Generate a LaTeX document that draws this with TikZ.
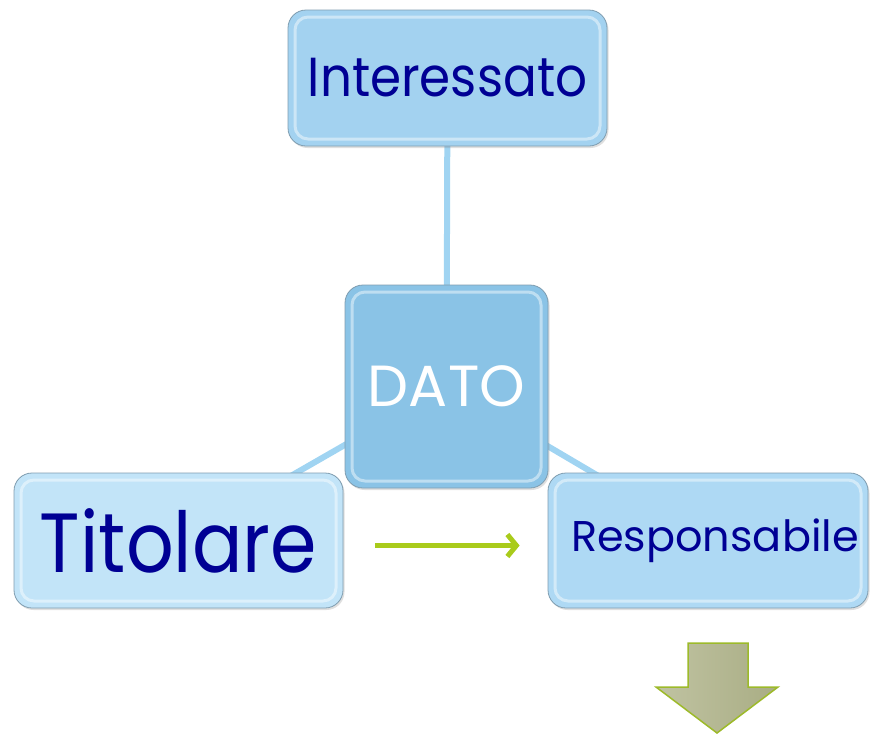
\documentclass[tikz,border=0pt]{standalone}
\usepackage{fontspec}
\setmainfont{Poppins}
\usetikzlibrary{arrows.meta,backgrounds,shadows}
\definecolor{intfill}{HTML}{A3D2F0}
\definecolor{datofill}{HTML}{8AC3E6}
\definecolor{titfill}{HTML}{C2E4F8}
\definecolor{respfill}{HTML}{AED9F4}
\definecolor{linkblue}{HTML}{A0D4F2}
\definecolor{navytext}{HTML}{000094}
\definecolor{arrgreen}{HTML}{A9CB1B}
\definecolor{olivetop}{HTML}{C0C3A2}
\definecolor{olivebot}{HTML}{A9AD84}
\definecolor{oliveedge}{HTML}{9DBA2A}
\definecolor{boxedge}{HTML}{7F9DB0}
\tikzset{
  box/.style={rectangle, rounded corners=18pt, draw=boxedge, line width=0.8pt,
    inner sep=0pt, text=navytext,
    drop shadow={opacity=.25, shadow xshift=1.5pt, shadow yshift=-2pt},
    path picture={\draw[white, opacity=.45, line width=3pt, rounded corners=13pt]
      ([shift={(7pt,-7pt)}]path picture bounding box.north west) rectangle
      ([shift={(-7pt,7pt)}]path picture bounding box.south east);}},
  link/.style={draw=linkblue, line width=6pt},
  flow/.style={draw=arrgreen, line width=5pt, -{Straight Barb[length=9pt,width=22pt,line width=5pt]}}
}
\begin{document}
\begin{tikzpicture}[x=1pt,y=-1pt]
\useasboundingbox (0,0) rectangle (870,734);
\node[box, fill=intfill, minimum width=319pt, minimum height=136pt] (int) at (447.5,78)
  {\scalebox{0.91}[1]{\fontsize{55}{60}\selectfont Interessato}};
\node[box, fill=datofill, minimum width=203pt, minimum height=203pt, text=white] (dato) at (446.5,386.5)
  {\fontsize{58}{62}\selectfont DATO};
\node[box, fill=titfill, minimum width=329pt, minimum height=135pt] (tit) at (178.5,540.5)
  {\scalebox{0.89}[1]{\fontsize{84}{90}\selectfont Titolare}};
\node[box, fill=respfill, minimum width=320pt, minimum height=135pt] (resp) at (708,540.5)
  {\hspace*{14pt}\fontsize{43}{48}\selectfont Responsabile};
\begin{scope}[on background layer]
  \draw[link] (int.center) -- (dato.center);
  \draw[link] (dato.center) -- (tit.center);
  \draw[link] (dato.center) -- (resp.center);
\end{scope}
\draw[flow, shorten <=32pt, shorten >=28pt] ([yshift=-5pt]tit.east) -- ([yshift=-5pt]resp.west);
\path[left color=olivetop, right color=olivebot, draw=oliveedge, line width=1.5pt, line join=miter]
  (688,643) -- (748,643) -- (748,687) -- (778,687) -- (717,733) -- (656,687) -- (688,687) -- cycle;
\end{tikzpicture}
\end{document}
